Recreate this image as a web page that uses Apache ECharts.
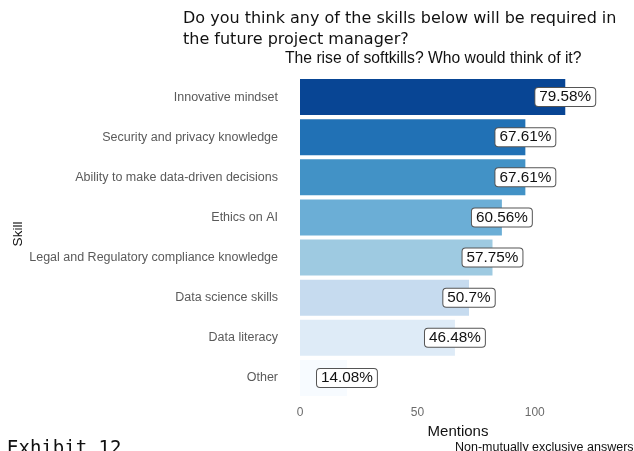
<!DOCTYPE html>
<html>
<head>
<meta charset="utf-8">
<script src="https://cdn.jsdelivr.net/npm/echarts@6/dist/echarts.min.js"></script>
<style>
  html, body { margin: 0; padding: 0; background: #fff; }
  #chart { width: 634px; height: 451px; }
</style>
</head>
<body>
<div id="chart"></div>
<script>
// Survey: skills expected of the future project manager (142 respondents)
const skills = [
  'Innovative mindset',
  'Security and privacy knowledge',
  'Ability to make data-driven decisions',
  'Ethics on AI',
  'Legal and Regulatory compliance knowledge',
  'Data science skills',
  'Data literacy',
  'Other'
];
const mentions = [113, 96, 96, 86, 82, 72, 66, 20];
const respondents = 142;
const barColors = ['#084594', '#2171b5', '#4292c6', '#6baed6', '#9ecae1', '#c6dbef', '#deebf7', '#f7fbff'];
const xTickLabels = [0, 50, 100];

const pct = v => (+(v / respondents * 100).toFixed(2)) + '%';

const chart = echarts.init(document.getElementById('chart'), null, { renderer: 'canvas' });

chart.setOption({
  animation: false,
  backgroundColor: '#ffffff',
  title: [
    {
      text: 'Do you think any of the skills below will be required in\nthe future project manager?',
      left: 178, top: 3,
      textStyle: { fontFamily: 'DejaVu Sans', fontSize: 16, fontWeight: 'normal', color: '#111', lineHeight: 21 }
    },
    {
      text: 'The rise of softkills? Who would think of it?',
      left: 280, top: 46,
      textStyle: { fontFamily: 'Liberation Sans', fontSize: 15.7, fontWeight: 'normal', color: '#111' }
    }
  ],
  grid: { left: 300, right: 3, top: 77, bottom: 53, containLabel: false, outerBoundsMode: 'none' },
  xAxis: {
    type: 'value',
    min: 0,
    max: 141,
    interval: 50,
    name: 'Mentions',
    nameLocation: 'middle',
    nameGap: 21,
    nameTextStyle: { fontFamily: 'Liberation Sans', fontSize: 15, color: '#111', padding: [0, 15, 0, 0] },
    axisLine: { show: false },
    axisTick: { show: false },
    splitLine: { show: false },
    axisLabel: {
      margin: 9,
      fontFamily: 'Liberation Sans',
      fontSize: 12,
      color: '#6b6b6b',
      formatter: v => (xTickLabels.indexOf(v) >= 0 ? String(v) : '')
    }
  },
  yAxis: {
    type: 'category',
    data: skills,
    inverse: true,
    axisLine: { show: false },
    axisTick: { show: false },
    splitLine: { show: false },
    axisLabel: { margin: 22, fontFamily: 'Liberation Sans', fontSize: 12.5, color: '#5a5a5a' }
  },
  series: [{
    type: 'bar',
    barWidth: '90%',
    data: mentions.map((v, i) => ({ value: v, itemStyle: { color: barColors[i] } })),
    label: {
      show: true,
      position: ['100%', '50%'],
      align: 'center',
      verticalAlign: 'middle',
      formatter: p => pct(p.value),
      fontFamily: 'Liberation Sans',
      fontSize: 15.3,
      color: '#111',
      backgroundColor: '#ffffff',
      borderColor: '#555',
      borderWidth: 1,
      borderRadius: 3,
      padding: [2, 4, 1, 4]
    }
  }],
  graphic: [
    {
      // y-axis title
      type: 'text', x: 18, y: 234, rotation: Math.PI / 2,
      style: { text: 'Skill', font: '13.5px "Liberation Sans"', fill: '#111', align: 'center', verticalAlign: 'middle' }
    },
    {
      type: 'text', left: 7, top: 440,
      style: { text: 'Exhibit 12', font: '19px "DejaVu Sans Mono"', fill: '#111' }
    },
    {
      type: 'text', left: 455, top: 441,
      style: { text: 'Non-mutually exclusive answers', font: '12.5px "Liberation Sans"', fill: '#111' }
    }
  ]
});
</script>
</body>
</html>
